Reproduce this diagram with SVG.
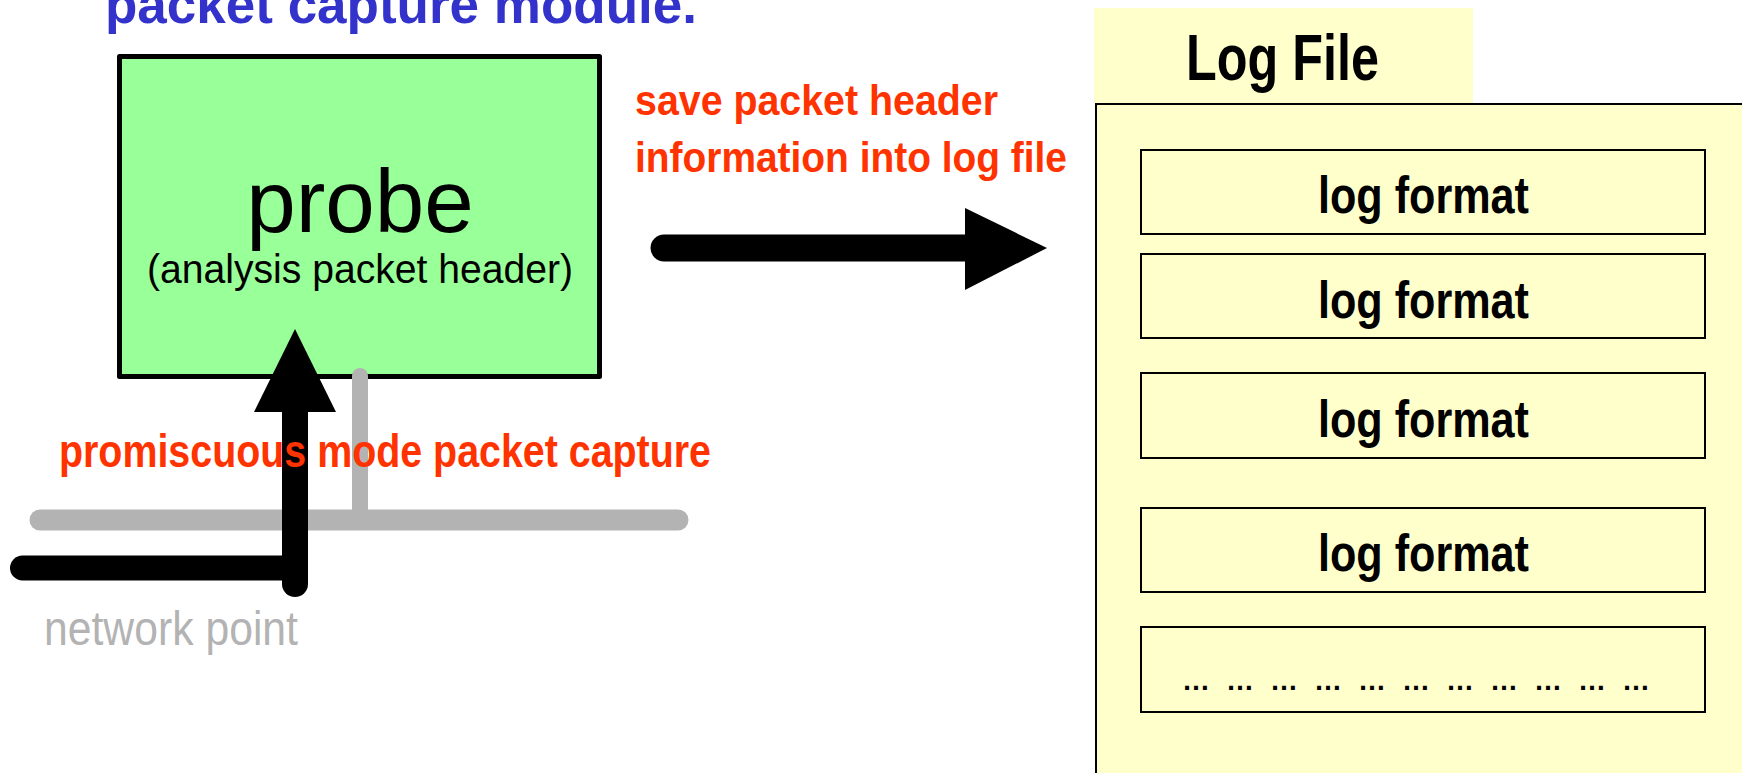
<svg xmlns="http://www.w3.org/2000/svg" width="1742" height="773" viewBox="0 0 1742 773">
  <style>
    .sans { font-family: "Liberation Sans", Arial, sans-serif; }
    .bold { font-weight: bold; }
    .red { fill: #FF3300; }
    .wire { stroke: #B3B3B3; stroke-linecap: round; fill: none; }
    .flow { stroke: #000000; stroke-linecap: round; fill: none; }
    .entry { fill: #FFFFCC; stroke: #000000; stroke-width: 2; }
    .entry-text { font-size: 52px; font-weight: bold; fill: #000000; text-anchor: middle; }
  </style>

  <rect width="1742" height="773" fill="#FFFFFF"/>

  <!-- heading, clipped by the top edge -->
  <g id="title">
    <text class="sans bold" x="105" y="23" font-size="53" fill="#3333CC" textLength="592" lengthAdjust="spacingAndGlyphs">packet capture module.</text>
  </g>

  <!-- probe box -->
  <g id="probe">
    <rect x="119.5" y="56.5" width="480" height="320" fill="#99FF99" stroke="#000000" stroke-width="5" stroke-linejoin="round"/>
    <text class="sans" x="360" y="232" font-size="89" text-anchor="middle" fill="#000000">probe</text>
    <text class="sans" x="360" y="283" font-size="40" text-anchor="middle" fill="#000000" textLength="426" lengthAdjust="spacingAndGlyphs">(analysis packet header)</text>
  </g>

  <!-- log file container with its entries -->
  <g id="log-file">
    <rect x="1094" y="8" width="379" height="100" fill="#FFFFCC"/>
    <rect x="1096" y="104" width="660" height="690" fill="#FFFFCC" stroke="#000000" stroke-width="2"/>
    <text class="sans bold" x="1186" y="80" font-size="65" fill="#000000" textLength="193" lengthAdjust="spacingAndGlyphs">Log File</text>
  </g>
  <g id="entry-1">
    <rect class="entry" x="1141" y="150" width="564" height="84"/>
    <text class="sans entry-text" x="1423.5" y="213" textLength="211" lengthAdjust="spacingAndGlyphs">log format</text>
  </g>
  <g id="entry-2">
    <rect class="entry" x="1141" y="254" width="564" height="84"/>
    <text class="sans entry-text" x="1423.5" y="318" textLength="211" lengthAdjust="spacingAndGlyphs">log format</text>
  </g>
  <g id="entry-3">
    <rect class="entry" x="1141" y="373" width="564" height="85"/>
    <text class="sans entry-text" x="1423.5" y="437" textLength="211" lengthAdjust="spacingAndGlyphs">log format</text>
  </g>
  <g id="entry-4">
    <rect class="entry" x="1141" y="508" width="564" height="84"/>
    <text class="sans entry-text" x="1423.5" y="571" textLength="211" lengthAdjust="spacingAndGlyphs">log format</text>
  </g>
  <g id="entry-more">
    <rect class="entry" x="1141" y="627" width="564" height="85"/>
    <text class="sans bold" x="1182" y="690" font-size="28" fill="#000000" textLength="468" lengthAdjust="spacing">… … … … … … … … … … …</text>
  </g>

  <!-- connectors: network tap, capture path and save path -->
  <g id="connectors">
    <line class="wire" x1="360" y1="376" x2="360" y2="520" stroke-width="16"/>
    <line class="wire" x1="40" y1="520" x2="678" y2="520" stroke-width="21"/>
    <line class="flow" x1="22.5" y1="568" x2="295" y2="568" stroke-width="25"/>
    <line class="flow" x1="295" y1="405" x2="295" y2="584" stroke-width="26"/>
    <polygon points="295,329 336,412 254,412" fill="#000000"/>
    <line class="flow" x1="664" y1="248" x2="970" y2="248" stroke-width="27"/>
    <polygon points="965,208 1047,248 965,290" fill="#000000"/>
  </g>

  <!-- labels -->
  <g id="label-capture">
    <text class="sans bold red" x="59" y="467" font-size="47" textLength="652" lengthAdjust="spacingAndGlyphs">promiscuous mode packet capture</text>
  </g>
  <g id="label-save">
    <text class="sans bold red" x="635" y="115" font-size="43" textLength="363" lengthAdjust="spacingAndGlyphs">save packet header</text>
    <text class="sans bold red" x="635" y="172" font-size="43" textLength="432" lengthAdjust="spacingAndGlyphs">information into log file</text>
  </g>
  <g id="label-network">
    <text class="sans" x="44" y="645" font-size="49" fill="#B3B3B3" textLength="254" lengthAdjust="spacingAndGlyphs">network point</text>
  </g>
</svg>
